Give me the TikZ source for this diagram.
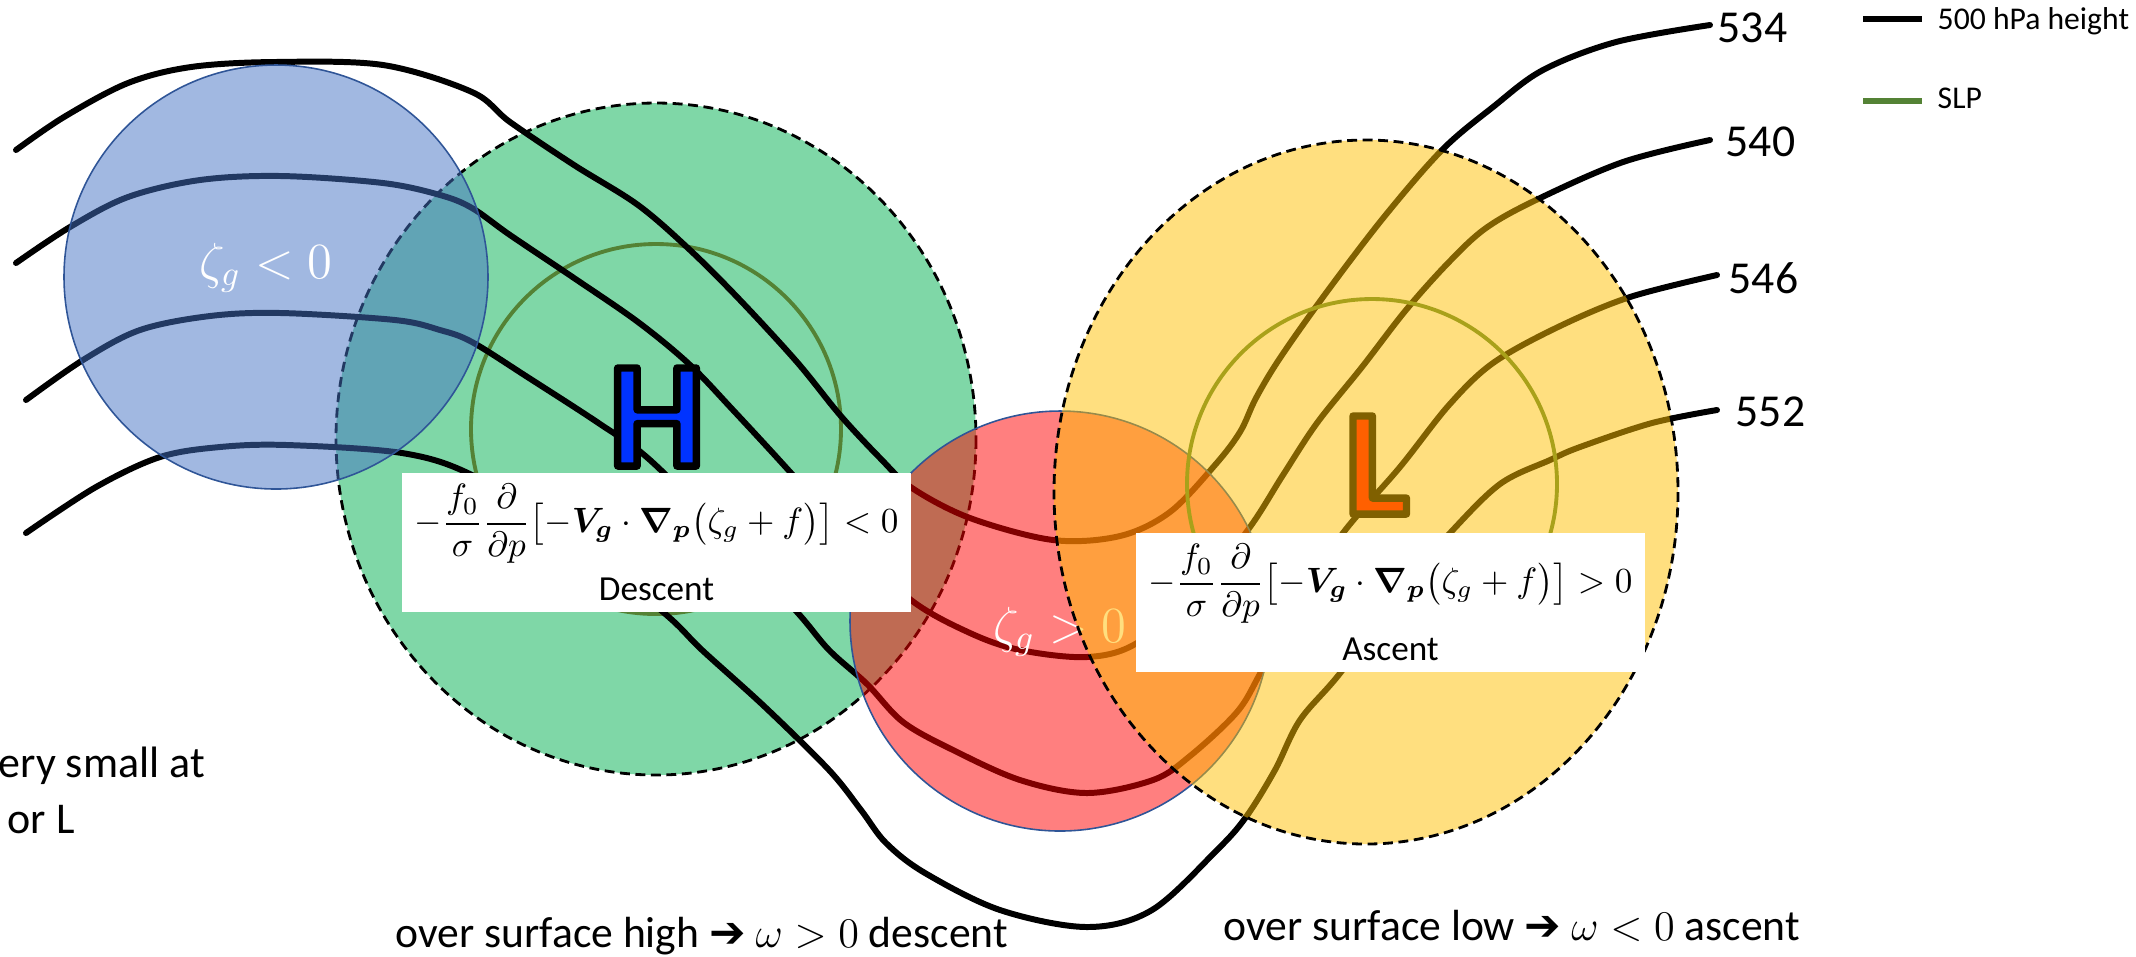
\documentclass[tikz,border=0pt]{standalone}
\usepackage{fontspec}
\setmainfont{Carlito}
\newfontfamily\arrowfont{DejaVu Sans}
\usepackage{amsmath}
\usepackage{bm}
\usepackage{xcolor}
\usetikzlibrary{calc}

\definecolor{hgtgreen}{HTML}{00B050}
\definecolor{vortblue}{HTML}{4472C4}
\definecolor{vortline}{HTML}{2F5597}
\definecolor{slpgreen}{HTML}{548235}
\definecolor{lowgold}{HTML}{FFC000}
\definecolor{hblue}{HTML}{0033FF}

\newcommand{\qgforcing}{-\frac{f_0}{\sigma}\frac{\partial}{\partial p}\bigl[-\bm{V}_{\bm{g}}\cdot\bm{\nabla}_{\bm{p}}\bigl(\zeta_g+f\bigr)\bigr]}
% letter filled in the text colour, with a black rim
\makeatletter
\newcommand{\rimmed}[1]{\pgfsys@invoke{ 0 0 0 RG 2 Tr 2.1 w 1 j }#1\pgfsys@invoke{ 0 Tr }}
\makeatother

\begin{document}
\begin{tikzpicture}[x=0.01cm, y=-0.01cm,
    hgt/.style={line width=1.7pt, line cap=round, line join=round},
    zoneedge/.style={line width=0.8pt, dash pattern=on 2.8pt off 1.6pt},
    slpring/.style={draw=slpgreen, line width=1.1pt},
    vortedge/.style={draw=vortline, line width=0.45pt},
    eqbox/.style={fill=white, inner sep=0pt, align=center, minimum width=5.09cm, minimum height=1.39cm, font=\fontsize{10}{12}\selectfont},
    bigletter/.style={inner sep=0pt, font=\fontsize{43}{43}\selectfont\bfseries},
    zetalabel/.style={inner sep=0pt, text=white, font=\fontsize{14}{16}\selectfont},
    hgtlabel/.style={anchor=west, inner sep=0pt, font=\fontsize{13}{15}\selectfont},
    legendtext/.style={anchor=west, inner sep=0pt, font=\fontsize{9}{11}\selectfont},
    note/.style={anchor=base west, inner sep=0pt, font=\fontsize{12.4}{14}\selectfont}]

\useasboundingbox (0,0) rectangle (2136,956);
\clip (0,0) rectangle (2136,956);

% descent region and surface high
\draw[zoneedge, fill=hgtgreen, fill opacity=0.5] (656,439) ellipse (320 and 336);
\draw[slpring] (656,429) circle (185);

% 500 hPa heights
\draw[hgt] plot[smooth, tension=0.55] coordinates {(16,150) (64,117) (128,83) (191,67) (274,62) (383,65) (472,92) (510,122) (574,165) (638,205) (690,250) (740,300) (797,362) (840,415) (880,458) (912,488) (970,518) (1053,540) (1120,536) (1170,512) (1215,465) (1240,432) (1256,398) (1280,358) (1326,293) (1384,217) (1442,150) (1493,107) (1543,70) (1616,42) (1710,25)};
\draw[hgt] plot[smooth, tension=0.55] coordinates {(16,263) (70,227) (128,197) (200,180) (281,176) (383,183) (440,195) (472,208) (510,235) (574,278) (638,322) (689,364) (733,410) (791,473) (850,540) (911,600) (970,633) (1020,650) (1087,657) (1137,643) (1200,590) (1250,527) (1283,475) (1317,423) (1362,367) (1406,310) (1449,262) (1486,228) (1536,200) (1623,162) (1710,140)};
\draw[hgt] plot[smooth, tension=0.55] coordinates {(26,400) (83,360) (140,330) (210,316) (281,313) (395,320) (440,330) (472,342) (529,378) (600,424) (650,460) (730,540) (797,612) (829,650) (867,684) (903,722) (953,750) (1020,780) (1087,793) (1153,780) (1190,756) (1237,712) (1261,672) (1300,600) (1343,533) (1400,467) (1449,405) (1493,363) (1558,327) (1630,297) (1717,275)};
\draw[hgt] plot[smooth, tension=0.55] coordinates {(26,533) (96,487) (160,457) (220,447) (287,445) (402,453) (472,475) (560,530) (663,612) (702,650) (765,707) (829,770) (861,810) (886,843) (925,873) (1000,910) (1087,927) (1152,910) (1217,850) (1246,817) (1275,770) (1300,720) (1341,672) (1400,590) (1450,533) (1500,484) (1550,460) (1580,447) (1652,423) (1717,410)};

% vorticity
\draw[vortedge, fill=vortblue, fill opacity=0.5] (276,277) circle (212);
\node[zetalabel] (zneg) at (266,268) {$\zeta_g<0$};
\draw[vortedge, fill=red, fill opacity=0.5] (1060,621) circle (210);
\node[zetalabel] (zpos) at (1060,632) {$\zeta_g>0$};

% surface low and ascent region
\draw[slpring] (1372,484) circle (185);
\node[bigletter, text=red] (lowL) at (1377,465) {\rimmed{L}};
\draw[zoneedge, fill=lowgold, fill opacity=0.5] (1366,492) ellipse (312 and 352);

% forcing boxes
\node[eqbox] (descbox) at (656.5,542.5) {$\displaystyle\qgforcing<0$\\[3pt]Descent};
\node[eqbox] (ascbox) at (1390.5,602.5) {$\displaystyle\qgforcing>0$\\[3pt]Ascent};

% H
\node[bigletter, text=hblue] (highH) at (657,417) {\rimmed{H}};

% height labels
\node[hgtlabel] (lab534) at (1717,28) {534};
\node[hgtlabel] (lab540) at (1725,142) {540};
\node[hgtlabel] (lab546) at (1728,278) {546};
\node[hgtlabel] (lab552) at (1735,412) {552};

% legend
\draw[line width=1.5pt] (1863,19) -- (1922,19);
\node[legendtext] (leghgt) at (1937,21) {500 hPa height};
\draw[slpgreen, line width=1.5pt] (1863,101) -- (1922,101);
\node[legendtext] (legslp) at (1937,98) {SLP};

% notes
\node[note] (notehigh) at (395,947) {over surface high {\arrowfont ➔} $\omega>0$ descent};
\node[note] (notelow) at (1223,940) {over surface low {\arrowfont ➔} $\omega<0$ ascent};
\node[note, font=\fontsize{12.5}{15}\selectfont] (notesmalla) at (-2,777) {ery small at};
\node[note, font=\fontsize{12.5}{15}\selectfont] (notesmallb) at (7,833) {or L};
\end{tikzpicture}
\end{document}
